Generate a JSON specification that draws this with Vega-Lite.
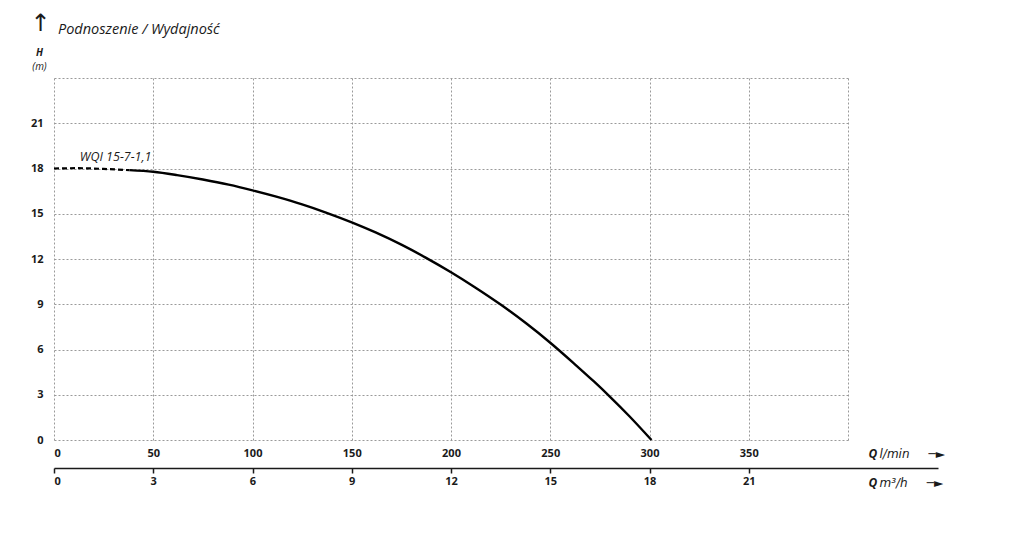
{
  "$schema": "https://vega.github.io/schema/vega-lite/v6.json",
  "width": 794,
  "height": 362,
  "autosize": {"type": "none"},
  "padding": {"left": 54, "top": 78, "right": 184, "bottom": 110},
  "background": "white",
  "config": {
    "view": {"stroke": null},
    "font": "Open Sans",
    "axis": {"labelColor": "#1a1a1a", "titleColor": "#1a1a1a"}
  },
  "title": {
    "text": "Podnoszenie / Wydajność",
    "anchor": "start",
    "frame": "group",
    "dx": 4,
    "offset": -37,
    "baseline": "alphabetic",
    "font": "Open Sans",
    "fontStyle": "italic",
    "fontWeight": "normal",
    "fontSize": 14.5,
    "color": "#1a1a1a"
  },
  "data": {
    "values": [
      {"q": 0, "h": 18.0},
      {"q": 12, "h": 18.02},
      {"q": 25, "h": 17.97},
      {"q": 38, "h": 17.89},
      {"q": 50, "h": 17.78},
      {"q": 62, "h": 17.56},
      {"q": 75, "h": 17.27},
      {"q": 88, "h": 16.93},
      {"q": 100, "h": 16.55},
      {"q": 112, "h": 16.13},
      {"q": 125, "h": 15.62},
      {"q": 137, "h": 15.08},
      {"q": 150, "h": 14.43},
      {"q": 162, "h": 13.76},
      {"q": 175, "h": 12.95},
      {"q": 187, "h": 12.11},
      {"q": 200, "h": 11.12},
      {"q": 212, "h": 10.13},
      {"q": 225, "h": 8.98},
      {"q": 238, "h": 7.72},
      {"q": 250, "h": 6.45},
      {"q": 262, "h": 5.07},
      {"q": 272, "h": 3.88},
      {"q": 280, "h": 2.88},
      {"q": 290, "h": 1.56},
      {"q": 301, "h": 0}
    ]
  },
  "resolve": {
    "scale": {"x": "independent"},
    "axis": {"x": "independent", "y": "independent"}
  },
  "layer": [
    {
      "transform": [{"filter": "datum.q <= 38"}],
      "mark": {"type": "line", "color": "#000000", "strokeWidth": 2.2, "strokeDash": [5, 3], "interpolate": "monotone", "clip": false},
      "encoding": {
        "x": {
          "field": "q", "type": "quantitative",
          "scale": {"domain": [0, 400], "nice": false, "zero": true},
          "axis": {
            "orient": "bottom",
            "values": [0, 50, 100, 150, 200, 250, 300, 350, 400],
            "labelExpr": "datum.value == 400 ? '' : datum.label",
            "grid": true, "gridColor": "#9a9a9a", "gridDash": [2, 2], "gridWidth": 1,
            "domain": false, "ticks": false,
            "labelFont": "Open Sans", "labelFontWeight": "bold", "labelFontSize": 11, "labelPadding": 7, "labelFlush": true,
            "title": "Q", "titleFont": "Open Sans", "titleFontStyle": "italic", "titleFontWeight": "bold", "titleFontSize": 12,
            "titleX": 814, "titleY": 13, "titleAlign": "left", "titleBaseline": "middle"
          }
        },
        "y": {
          "field": "h", "type": "quantitative",
          "scale": {"domain": [0, 24], "nice": false},
          "axis": {
            "orient": "left",
            "values": [0, 3, 6, 9, 12, 15, 18, 21, 24],
            "labelExpr": "datum.value == 24 ? '' : datum.label",
            "grid": true, "gridColor": "#9a9a9a", "gridDash": [2, 2], "gridWidth": 1,
            "domain": false, "ticks": false,
            "labelFont": "Open Sans", "labelFontWeight": "bold", "labelFontSize": 11, "labelPadding": 11,
            "title": "H", "titleFont": "Open Sans", "titleFontStyle": "italic", "titleFontWeight": "bold", "titleFontSize": 10,
            "titleAngle": 0, "titleX": -15, "titleY": -26, "titleAlign": "center", "titleBaseline": "middle"
          }
        }
      }
    },
    {
      "transform": [{"filter": "datum.q >= 38"}],
      "mark": {"type": "line", "color": "#000000", "strokeWidth": 2.4, "interpolate": "monotone", "clip": false},
      "encoding": {
        "x": {
          "field": "q", "type": "quantitative",
          "scale": {"domain": [0, 400], "nice": false, "zero": true},
          "axis": {
            "orient": "bottom",
            "labels": false, "grid": false, "domain": false, "ticks": false,
            "title": "l/min\u00a0\u00a0\u00a0\u00a0\u00a0─►", "titleFont": "DejaVu Sans", "titleFontStyle": "italic", "titleFontWeight": "normal", "titleFontSize": 12,
            "titleX": 825, "titleY": 13, "titleAlign": "left", "titleBaseline": "middle"
          }
        },
        "y": {
          "field": "h", "type": "quantitative",
          "axis": {
            "orient": "left",
            "labels": false, "grid": false, "domain": false, "ticks": false,
            "title": "(m)", "titleFont": "Open Sans", "titleFontStyle": "italic", "titleFontWeight": "normal", "titleFontSize": 10,
            "titleAngle": 0, "titleX": -15, "titleY": -12, "titleAlign": "center", "titleBaseline": "middle"
          }
        }
      }
    },
    {
      "transform": [{"filter": "datum.q == 12"}],
      "mark": {"type": "text", "text": "WQI 15-7-1,1", "font": "Open Sans", "fontStyle": "italic", "fontSize": 12.5, "color": "#1a1a1a", "align": "left", "baseline": "middle", "dx": 2, "dy": -11, "clip": false},
      "encoding": {
        "x": {
          "field": "q", "type": "quantitative",
          "scale": {"domain": [0, 400], "nice": false, "zero": true},
          "axis": {
            "orient": "bottom",
            "labels": false, "grid": false, "domain": false, "ticks": false,
            "title": "m³/h\u00a0\u00a0\u00a0\u00a0\u00a0─►", "titleFont": "DejaVu Sans", "titleFontStyle": "italic", "titleFontWeight": "normal", "titleFontSize": 12,
            "titleX": 825, "titleY": 42, "titleAlign": "left", "titleBaseline": "middle"
          }
        },
        "y": {
          "field": "h", "type": "quantitative",
          "axis": {
            "orient": "left",
            "labels": false, "grid": false, "domain": false, "ticks": false,
            "title": "↑", "titleFont": "DejaVu Sans", "titleFontWeight": "normal", "titleFontSize": 24,
            "titleAngle": 0, "titleX": -14, "titleY": -55, "titleAlign": "center", "titleBaseline": "middle"
          }
        }
      }
    },
    {
      "data": {"values": [{"qm": 0}, {"qm": 24}]},
      "mark": {"type": "point", "opacity": 0},
      "encoding": {
        "x": {
          "field": "qm", "type": "quantitative",
          "scale": {"domain": [0, 26.72], "range": [0, 884], "nice": false, "zero": true},
          "axis": {
            "orient": "bottom",
            "values": [0, 3, 6, 9, 12, 15, 18, 21],
            "offset": 28,
            "grid": false,
            "domain": true, "domainColor": "#1a1a1a", "domainWidth": 1.5,
            "ticks": true, "tickColor": "#1a1a1a", "tickWidth": 1.5, "tickSize": 5,
            "labelFont": "Open Sans", "labelFontWeight": "bold", "labelFontSize": 11, "labelPadding": 2, "labelFlush": true,
            "title": "Q", "titleFont": "Open Sans", "titleFontStyle": "italic", "titleFontWeight": "bold", "titleFontSize": 12,
            "titleX": 814, "titleY": 14, "titleAlign": "left", "titleBaseline": "middle"
          }
        }
      }
    }
  ]
}
